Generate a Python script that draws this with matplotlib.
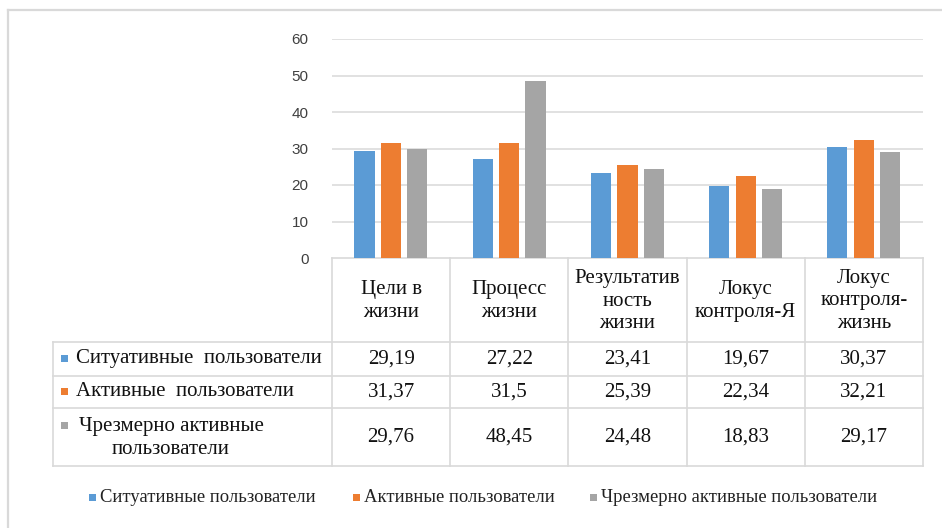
import numpy as np
import matplotlib
matplotlib.use("Agg")
import matplotlib.pyplot as plt

# data
categories = ["Цели в\nжизни", "Процесс\nжизни", "Результатив\nность\nжизни",
              "Локус\nконтроля-Я", "Локус\nконтроля-\nжизнь"]
series_names = ["Ситуативные пользователи", "Активные пользователи",
                "Чрезмерно активные пользователи"]
row_labels = ["Ситуативные  пользователи", "Активные  пользователи",
              "Чрезмерно активные\nпользователи"]
situational = [29.19, 27.22, 23.41, 19.67, 30.37]
active = [31.37, 31.5, 25.39, 22.34, 32.21]
excessive = [29.76, 48.45, 24.48, 18.83, 29.17]
y_ticks = [0, 10, 20, 30, 40, 50, 60]

colors = ["#5B9BD5", "#ED7D31", "#A5A5A5"]
grid_c = "#D9D9D9"
serif = "Liberation Serif"
tfs = 15      # table font size
lfs = 13.4    # legend font size

W, H = 942, 528
fig = plt.figure(figsize=(W / 100, H / 100), dpi=100)
fig.patch.set_facecolor("white")

# pixel overlay for frame, table and legend
px = fig.add_axes([0, 0, 1, 1])
px.set_xlim(0, W)
px.set_ylim(H, 0)
px.axis("off")

# chart area frame (cropped)
px.plot([8, W], [10, 10], color=grid_c, lw=1.6)
px.plot([8, 8], [10, H], color=grid_c, lw=1.6)

# bar axes
x0, x1, y0, y1 = 332, 923, 39, 258
ax = fig.add_axes([x0 / W, (H - y1) / H, (x1 - x0) / W, (y1 - y0) / H])
ax.patch.set_alpha(0)
n = len(categories)
xs = np.arange(n) + 0.5
offsets = [-0.225, 0.0, 0.222]
for vals, off, c in zip([situational, active, excessive], offsets, colors):
    ax.bar(xs + off, vals, width=0.17, color=c, zorder=3)
ax.set_xlim(0, n)
ax.set_ylim(0, 60)
ax.set_yticks(y_ticks)
ax.set_yticklabels([str(t) for t in y_ticks], fontsize=11,
                   family="Liberation Sans", color="#404040")
ax.tick_params(axis="y", length=0, pad=17)
ax.set_xticks([])
for t in y_ticks[1:]:
    ax.axhline(t, color=grid_c, lw=1.1, zorder=1)
for s in ax.spines.values():
    s.set_visible(False)

# data table
col_edges = [x0 + i * (x1 - x0) / n for i in range(n + 1)]
row_edges = [258, 342, 376, 408, 466]
tbl_left = 53
lw_t = 1.2
px.plot([x0, x1], [258, 258], color=grid_c, lw=lw_t)
for yy in row_edges[1:]:
    px.plot([tbl_left, x1], [yy, yy], color=grid_c, lw=lw_t)
px.plot([tbl_left, tbl_left], [row_edges[1], row_edges[-1]], color=grid_c, lw=lw_t)
for xx in col_edges:
    px.plot([xx, xx], [row_edges[0], row_edges[-1]], color=grid_c, lw=lw_t)

for i, cat in enumerate(categories):
    cx = (col_edges[i] + col_edges[i + 1]) / 2
    px.text(cx, (row_edges[0] + row_edges[1]) / 2 + 1, cat, ha="center", va="center",
            fontsize=tfs, family=serif, linespacing=1.28, color="#111111")

for r, (lab, vals, c) in enumerate(zip(row_labels, [situational, active, excessive], colors)):
    cy = (row_edges[r + 1] + row_edges[r + 2]) / 2
    if "\n" in lab:
        my = cy - 12
        px.text(171, cy + 1, lab, ha="center", va="center", fontsize=tfs,
                family=serif, linespacing=1.25, color="#111111")
    else:
        my = cy - 1
        px.text(76, cy, lab, ha="left", va="center", fontsize=tfs,
                family=serif, color="#111111")
    px.add_patch(plt.Rectangle((61, my - 3.5), 7, 7, color=c, lw=0))
    for i, v in enumerate(vals):
        cx = (col_edges[i] + col_edges[i + 1]) / 2
        px.text(cx, cy, f"{v:g}".replace(".", ","), ha="center", va="center",
                fontsize=tfs, family=serif, color="#111111")

# legend
leg_x = [89, 353, 590]
for name, c, lx in zip(series_names, colors, leg_x):
    px.add_patch(plt.Rectangle((lx, 494), 7, 7, color=c, lw=0))
    px.text(lx + 11, 498, name, ha="left", va="center", fontsize=lfs,
            family=serif, color="#222222")

fig.savefig("out.png", dpi=100)
